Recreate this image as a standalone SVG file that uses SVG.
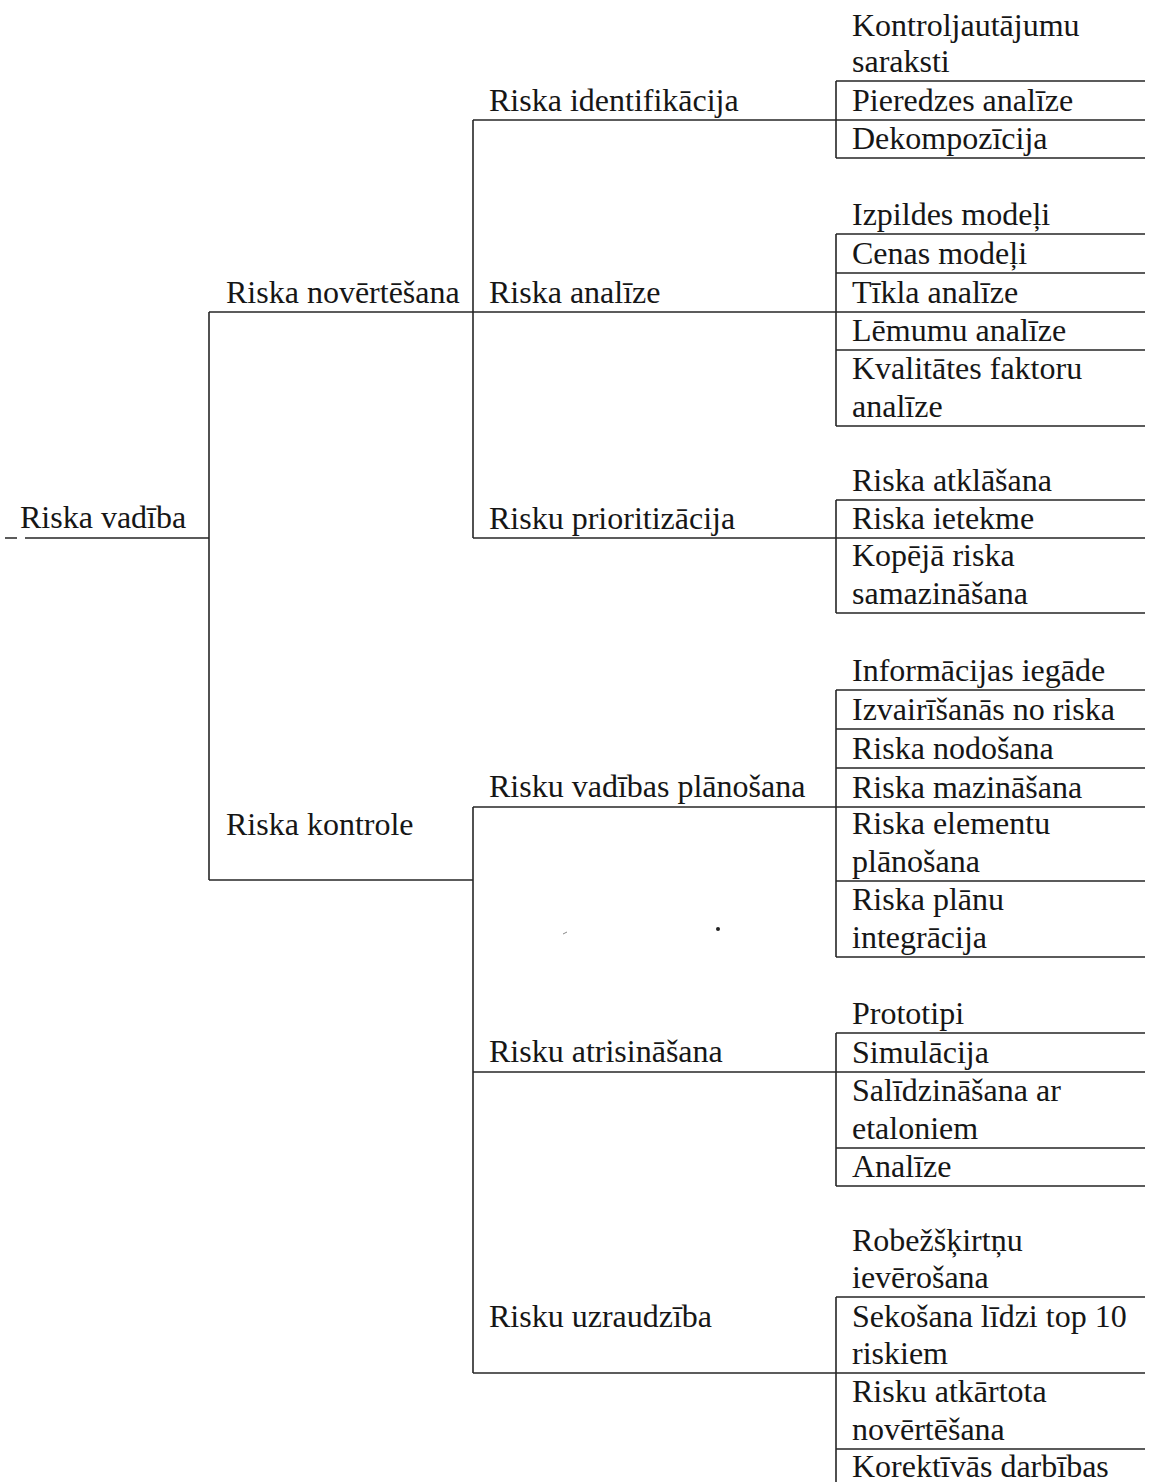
<svg xmlns="http://www.w3.org/2000/svg" width="1151" height="1482" viewBox="0 0 1151 1482">
  <style>
    text { font-family: "Liberation Serif", "Times New Roman", serif; font-size: 32px; fill: #161616; }
    .ln { stroke: #262626; stroke-width: 1.6; fill: none; }
  </style>
  <rect width="1151" height="1482" fill="#ffffff"/>

  <!-- tree connectors -->
  <g id="connectors" class="ln">
    <!-- root stub -->
    <path d="M5 538H17M25 538H209"/>
    <!-- level 1 trunk -->
    <path d="M209 312V880"/>
    <path d="M209 312H473"/>
    <path d="M209 880H473"/>
    <!-- level 2 trunks -->
    <path d="M473 120V538"/>
    <path d="M473 807V1373"/>
    <path d="M473 120H836"/>
    <path d="M473 312H836"/>
    <path d="M473 538H836"/>
    <path d="M473 807H836"/>
    <path d="M473 1072H836"/>
    <path d="M473 1373H836"/>
  </g>

  <!-- root -->
  <g id="riska-vadiba"><text x="20" y="528">Riska vadība</text></g>

  <!-- level 1 -->
  <g id="riska-novertesana"><text x="226" y="303">Riska novērtēšana</text></g>
  <g id="riska-kontrole"><text x="226" y="835">Riska kontrole</text></g>

  <!-- level 2 -->
  <g id="riska-identifikacija"><text x="489" y="111">Riska identifikācija</text></g>
  <g id="riska-analize"><text x="489" y="303">Riska analīze</text></g>
  <g id="risku-prioritizacija"><text x="489" y="529">Risku prioritizācija</text></g>
  <g id="risku-vadibas-planosana"><text x="489" y="797">Risku vadības plānošana</text></g>
  <g id="risku-atrisinasana"><text x="489" y="1062">Risku atrisināšana</text></g>
  <g id="risku-uzraudziba"><text x="489" y="1327">Risku uzraudzība</text></g>

  <!-- leaf lists -->
  <g id="list-identifikacija">
    <path class="ln" d="M836 81V158M836 81H1145M836 120H1145M836 158H1145"/>
    <text x="852" y="36">Kontroljautājumu</text>
    <text x="852" y="72">saraksti</text>
    <text x="852" y="111">Pieredzes analīze</text>
    <text x="852" y="149">Dekompozīcija</text>
  </g>

  <g id="list-analize">
    <path class="ln" d="M836 234V426M836 234H1145M836 273H1145M836 312H1145M836 350H1145M836 426H1145"/>
    <text x="852" y="225">Izpildes modeļi</text>
    <text x="852" y="264">Cenas modeļi</text>
    <text x="852" y="303">Tīkla analīze</text>
    <text x="852" y="341">Lēmumu analīze</text>
    <text x="852" y="379">Kvalitātes faktoru</text>
    <text x="852" y="417">analīze</text>
  </g>

  <g id="list-prioritizacija">
    <path class="ln" d="M836 500V613M836 500H1145M836 538H1145M836 613H1145"/>
    <text x="852" y="491">Riska atklāšana</text>
    <text x="852" y="529">Riska ietekme</text>
    <text x="852" y="566">Kopējā riska</text>
    <text x="852" y="604">samazināšana</text>
  </g>

  <g id="list-planosana">
    <path class="ln" d="M836 690V957M836 690H1145M836 729H1145M836 768H1145M836 807H1145M836 881H1145M836 957H1145"/>
    <text x="852" y="681">Informācijas iegāde</text>
    <text x="852" y="720">Izvairīšanās no riska</text>
    <text x="852" y="759">Riska nodošana</text>
    <text x="852" y="798">Riska mazināšana</text>
    <text x="852" y="834">Riska elementu</text>
    <text x="852" y="872">plānošana</text>
    <text x="852" y="910">Riska plānu</text>
    <text x="852" y="948">integrācija</text>
  </g>

  <g id="list-atrisinasana">
    <path class="ln" d="M836 1033V1186M836 1033H1145M836 1072H1145M836 1148H1145M836 1186H1145"/>
    <text x="852" y="1024">Prototipi</text>
    <text x="852" y="1063">Simulācija</text>
    <text x="852" y="1101">Salīdzināšana ar</text>
    <text x="852" y="1139">etaloniem</text>
    <text x="852" y="1177">Analīze</text>
  </g>

  <g id="list-uzraudziba">
    <path class="ln" d="M836 1297V1482M836 1297H1145M836 1373H1145M836 1449H1145"/>
    <text x="852" y="1251">Robežšķirtņu</text>
    <text x="852" y="1288">ievērošana</text>
    <text x="852" y="1327">Sekošana līdzi top 10</text>
    <text x="852" y="1364">riskiem</text>
    <text x="852" y="1402">Risku atkārtota</text>
    <text x="852" y="1440">novērtēšana</text>
    <text x="852" y="1477">Korektīvās darbības</text>
  </g>

  <!-- specks -->
  <circle cx="718" cy="929" r="2" fill="#222"/>
  <path d="M563 934l4-2" stroke="#888" stroke-width="1"/>
</svg>
